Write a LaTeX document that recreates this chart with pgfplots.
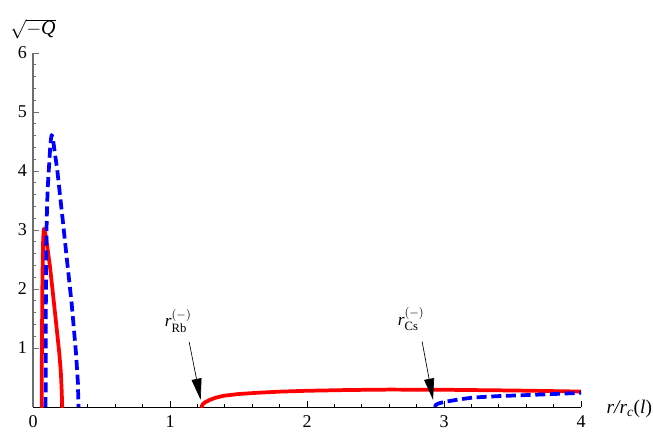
\documentclass[border=0pt]{standalone}
\usepackage{pgfplots}
\pgfplotsset{compat=1.18}
\usetikzlibrary{arrows.meta}
\usepackage{fontspec}
\setmainfont{Liberation Serif}
\definecolor{axgray}{RGB}{110,110,110}
\begin{document}
\begin{tikzpicture}
\begin{axis}[
  scale only axis, width=411pt, height=265.5pt,
  xmin=0, xmax=4, ymin=0, ymax=6,
  axis lines=left,
  axis line style={-},
  x axis line style={black, line width=0.6pt},
  y axis line style={axgray, line width=0.9pt},
  xtick={0,1,2,3,4}, ytick={1,2,3,4,5,6},
  minor x tick num=4, minor y tick num=4,
  tick align=inside,
  major tick length=4.5pt, minor tick length=2.6pt,
  x tick style={black, line width=0.5pt},
  y tick style={axgray, line width=0.6pt},
  /pgf/number format/assume math mode=true,
  xticklabel style={font=\fontsize{13.5}{16}\selectfont, yshift=-3pt},
  yticklabel style={font=\fontsize{13.5}{16}\selectfont, xshift=-1pt},
  clip mode=individual,
  every axis plot/.append style={line join=round, line cap=round},
]
\addplot[red, line width=2.8pt] coordinates {
(0.063,0)(0.064,0.6)(0.066,1.3)(0.068,2.0)(0.071,2.5)(0.074,2.82)(0.077,2.97)(0.08,3.02)(0.084,3.0)(0.09,2.93)(0.1,2.8)(0.11,2.62)(0.124,2.38)(0.14,2.04)(0.153,1.76)(0.172,1.35)(0.192,0.91)(0.203,0.6)(0.209,0.3)(0.212,0.1)(0.213,0)
};
\addplot[blue, line width=2.8pt, line cap=butt, dash pattern=on 7.5pt off 3.5pt] coordinates {
(0.092,0)(0.093,1.0)(0.094,1.76)(0.095,2.38)(0.1,3.17)(0.107,3.7)(0.117,4.08)(0.125,4.38)(0.131,4.54)(0.136,4.61)(0.141,4.59)(0.148,4.5)(0.16,4.3)(0.177,4.02)(0.217,3.17)(0.253,2.38)(0.282,1.76)(0.314,0.91)(0.328,0.4)(0.331,0.07)(0.333,0)
};
\addplot[red, line width=2.8pt] coordinates {
(1.231,0)(1.235,0.03)(1.24,0.05)(1.26,0.085)(1.29,0.12)(1.33,0.155)(1.39,0.19)(1.5,0.22)(1.63,0.24)(1.8,0.26)(2.0,0.275)(2.3,0.288)(2.6,0.295)(3.0,0.292)(3.5,0.28)(4.0,0.262)
};
\addplot[blue, line width=2.8pt, line cap=butt, dash pattern=on 7.5pt off 3.5pt] coordinates {
(2.934,0)(2.94,0.035)(2.96,0.06)(3.0,0.085)(3.05,0.105)(3.1,0.125)(3.21,0.16)(3.4,0.185)(3.58,0.2)(3.8,0.22)(4.0,0.24)
};
\draw[black, line width=0.5pt, -{Triangle[length=16pt,width=7.5pt]}] (axis cs:1.14,1.10) -- (axis cs:1.224,0.12);
\draw[black, line width=0.5pt, -{Triangle[length=16pt,width=7.5pt]}] (axis cs:2.84,1.11) -- (axis cs:2.92,0.12);
\node[font=\fontsize{13}{15}\selectfont] at (axis cs:1.06,1.46) {$\mbox{\itshape r}^{(-)}_{\mbox{\fontsize{9.5}{10}\selectfont Rb}}$};
\node[font=\fontsize{13}{15}\selectfont] at (axis cs:2.76,1.49) {$\mbox{\itshape r}^{(-)}_{\mbox{\fontsize{9.5}{10}\selectfont Cs}}$};
\node[font=\fontsize{15}{18}\selectfont] at (axis cs:0,6.41) {$\sqrt{-\mbox{\itshape Q}}$};
\node[font=\fontsize{14.5}{17}\selectfont, anchor=west, inner sep=0pt] at (axis cs:4.185,-0.03) {\itshape r/r\textsubscript{c}\upshape(\itshape l\upshape)};
\end{axis}
\pgfresetboundingbox
\path[use as bounding box] (-24.75pt,-18.75pt) rectangle (465pt,305.25pt);
\end{tikzpicture}
\end{document}
